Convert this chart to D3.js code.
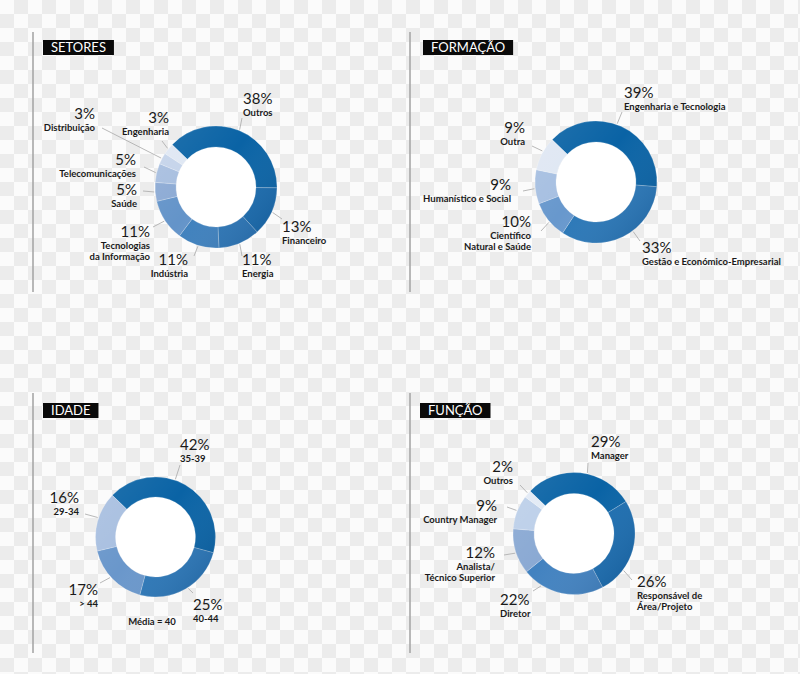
<!DOCTYPE html>
<html><head><meta charset="utf-8">
<script src="https://cdn.jsdelivr.net/npm/d3@7"></script>
<style>body{margin:0;background:#fff}svg{display:block}</style>
</head><body>
<svg id="c" width="800" height="674"></svg>
<script>
// ---------- DATA ----------
const setoresTitle = "SETORES";
const setoresCategories = [["Outros"],["Financeiro"],["Energia"],["Indústria"],["Tecnologias","da Informação"],["Saúde"],["Telecomunicações"],["Distribuição"],["Engenharia"]];
const setoresValues = [38,13,11,11,11,5,5,3,3];

const formacaoTitle = "FORMAÇÃO";
const formacaoCategories = [["Engenharia e Tecnologia"],["Gestão e Económico-Empresarial"],["Científico","Natural e Saúde"],["Humanístico e Social"],["Outra"]];
const formacaoValues = [39,33,10,9,9];

const idadeTitle = "IDADE";
const idadeCategories = [["35-39"],["40-44"],["> 44"],["29-34"]];
const idadeValues = [42,25,17,16];
const idadeNote = "Média = 40";

const funcaoTitle = "FUNÇÃO";
const funcaoCategories = [["Manager"],["Responsável de","Área/Projeto"],["Diretor"],["Analista/","Técnico Superior"],["Country Manager"],["Outros"]];
const funcaoValues = [29,26,22,12,9,2];

// ---------- STYLE / LAYOUT ----------
const setoresColors = ["#0a63a5","#1a6bad","#2c75b5","#3e80bd","#6494c9","#8caad4","#a7bedf","#c4d3ea","#dfe7f3"];
const formacaoColors = ["#0a63a5","#2a77b7","#6898cd","#a6bfe1","#dfe7f3"];
const idadeColors = ["#0a63a5","#2c77b7","#6a97cb","#a8bfe0"];
const funcaoColors = ["#0a63a5","#1c6daf","#4282c0","#8aa9d3","#bccfe9","#e2eaf5"];

const panels = [
  {title:setoresTitle, cats:setoresCategories, vals:setoresValues, colors:setoresColors,
   cx:216, cy:187, ro:61, ri:40, titleX:43, titleY:40, rule:{x:33,y1:32,y2:292},
   labels:[
     {x:243,y:104,a:"start",t:0.5,ex:242,ey:118},
     {x:282,y:232,a:"start",t:0.5,ex:282,ey:219},
     {x:242,y:265,a:"start",t:0.5,ex:242,ey:256},
     {x:188,y:265,a:"end",t:0.5,ex:194,ey:256},
     {x:150,y:237,a:"end",t:0.5,ex:153,ey:227},
     {x:137,y:195,a:"end",t:0.5,ex:143,ey:191},
     {x:136,y:165,a:"end",t:0.5,ex:144,ey:167},
     {x:95,y:119,a:"end",t:0.5,ex:102,ey:128},
     {x:169,y:123,a:"end",t:0.5,ex:162,ey:141}
   ]},
  {title:formacaoTitle, cats:formacaoCategories, vals:formacaoValues, colors:formacaoColors,
   cx:596, cy:182, ro:61, ri:40, titleX:423, titleY:40, rule:{x:410,y1:32,y2:292},
   labels:[
     {x:624,y:98,a:"start",t:0.47,ex:622,ey:112},
     {x:642,y:253,a:"start",t:0.41,ex:640,ey:241},
     {x:531,y:227,a:"end",t:0.45,ex:541,ey:231},
     {x:511,y:190,a:"end",t:0.45,ex:523,ey:191},
     {x:525,y:133,a:"end",t:0.57,ex:532,ey:146}
   ]},
  {title:idadeTitle, cats:idadeCategories, vals:idadeValues, colors:idadeColors,
   cx:155.5, cy:537, ro:60, ri:40, titleX:43, titleY:403, rule:{x:33,y1:393,y2:653},
   note:{text:idadeNote,x:152,y:625},
   labels:[
     {x:180,y:450,a:"start",t:0.43,ex:180,ey:465},
     {x:193,y:610,a:"start",t:0.47,ex:193,ey:593},
     {x:98,y:595,a:"end",t:0.54,ex:100,ey:583},
     {x:79,y:503,a:"end",t:0.56,ex:85,ey:514}
   ]},
  {title:funcaoTitle, cats:funcaoCategories, vals:funcaoValues, colors:funcaoColors,
   cx:574, cy:533.5, ro:61, ri:40, titleX:420, titleY:403, rule:{x:410,y1:393,y2:653},
   labels:[
     {x:591,y:447,a:"start",t:0.56,ex:588,ey:463},
     {x:637,y:587,a:"start",t:0.73,ex:632,ey:580},
     {x:500,y:605,a:"start",t:0.76,ex:533,ey:591},
     {x:495,y:558,a:"end",t:0.47,ex:504,ey:555},
     {x:497,y:511,a:"end",t:0.54,ex:507,ey:507},
     {x:513,y:472,a:"end",t:0.6,ex:520,ey:485}
   ]}
];
const startDeg = -46;
const FONT = "Lato, 'Open Sans', sans-serif";

// ---------- DRAW ----------
const svg = d3.select("#c");
const defs = svg.append("defs");

// checker background
const sq = 14;
const pat = defs.append("pattern").attr("id","chk").attr("patternUnits","userSpaceOnUse")
  .attr("width",sq*2).attr("height",sq*2).attr("x",0).attr("y",0);
pat.append("rect").attr("width",sq*2).attr("height",sq*2).attr("fill","#fbfbfb");
pat.append("rect").attr("x",sq).attr("y",0).attr("width",sq).attr("height",sq).attr("fill","#ececec");
pat.append("rect").attr("x",0).attr("y",sq).attr("width",sq).attr("height",sq).attr("fill","#ececec");
svg.append("rect").attr("width",800).attr("height",674).attr("fill","url(#chk)");

panels.forEach((p,pi)=>{
  const g = svg.append("g");
  // rule
  g.append("line").attr("x1",p.rule.x).attr("x2",p.rule.x).attr("y1",p.rule.y1).attr("y2",p.rule.y2)
    .attr("stroke","#a8a8a8").attr("stroke-width",1.6);
  // title
  const tg = g.append("g");
  const tr = tg.append("rect").attr("fill","#0a0a0a");
  const tt = tg.append("text").text(p.title).attr("x",p.titleX+8).attr("y",p.titleY+12)
    .attr("fill","#fff").attr("font-family",FONT).attr("font-size",13).attr("font-weight",400);
  const bb = tt.node().getBBox();
  tr.attr("x",p.titleX).attr("y",p.titleY).attr("width",bb.width+16).attr("height",15);

  const data = p.vals.map((v,i)=>({v, cat:p.cats[i], color:p.colors[i], lab:p.labels[i]}));
  const s0 = startDeg*Math.PI/180;
  const pie = d3.pie().sort(null).value(d=>d.v).startAngle(s0).endAngle(s0+2*Math.PI);
  const arcs = pie(data);
  const arc = d3.arc().innerRadius(p.ri).outerRadius(p.ro);
  const ring = g.append("g").attr("transform",`translate(${p.cx},${p.cy})`);
  ring.append("circle").attr("r",p.ri).attr("fill","#fff");
  ring.selectAll("path.s").data(arcs).join("path").attr("class","s")
    .attr("d",arc).attr("fill",d=>d.data.color)
    .attr("stroke","#fff").attr("stroke-opacity",0.35).attr("stroke-width",0.6);
  // shading overlay
  const gid = "sh"+pi;
  const lg = defs.append("linearGradient").attr("id",gid).attr("x1","0").attr("y1","0").attr("x2","1").attr("y2","0.8");
  lg.append("stop").attr("offset","0").attr("stop-color","#ffffff").attr("stop-opacity",0.10);
  lg.append("stop").attr("offset","0.5").attr("stop-color","#ffffff").attr("stop-opacity",0);
  lg.append("stop").attr("offset","1").attr("stop-color","#00204a").attr("stop-opacity",0.16);
  ring.append("path").attr("d",d3.arc().innerRadius(p.ri).outerRadius(p.ro).startAngle(0).endAngle(2*Math.PI)())
    .attr("fill",`url(#${gid})`);

  // leader lines + labels
  arcs.forEach(a=>{
    const L = a.data.lab;
    const ang = a.startAngle + (a.endAngle-a.startAngle)*L.t;
    const r = p.ro+1;
    const sx = p.cx + r*Math.sin(ang), sy = p.cy - r*Math.cos(ang);
    g.append("line").attr("x1",sx).attr("y1",sy).attr("x2",L.ex).attr("y2",L.ey)
      .attr("stroke","#b0b0b0").attr("stroke-width",0.9);
    g.append("text").attr("x",L.x).attr("y",L.y).attr("text-anchor",L.a)
      .attr("font-family",FONT).attr("font-size",15).attr("fill","#1a1a1a")
      .text(a.data.v+"%");
    a.data.cat.forEach((line,li)=>{
      g.append("text").attr("x",L.x).attr("y",L.y+12+li*11).attr("text-anchor",L.a)
        .attr("font-family",FONT).attr("font-size",9.5).attr("font-weight",700).attr("fill","#1a1a1a")
        .text(line);
    });
  });
  if(p.note){
    g.append("text").attr("x",p.note.x).attr("y",p.note.y).attr("text-anchor","middle")
      .attr("font-family",FONT).attr("font-size",9.5).attr("font-weight",700).attr("fill","#1a1a1a")
      .text(p.note.text);
  }
});
</script>
</body></html>
